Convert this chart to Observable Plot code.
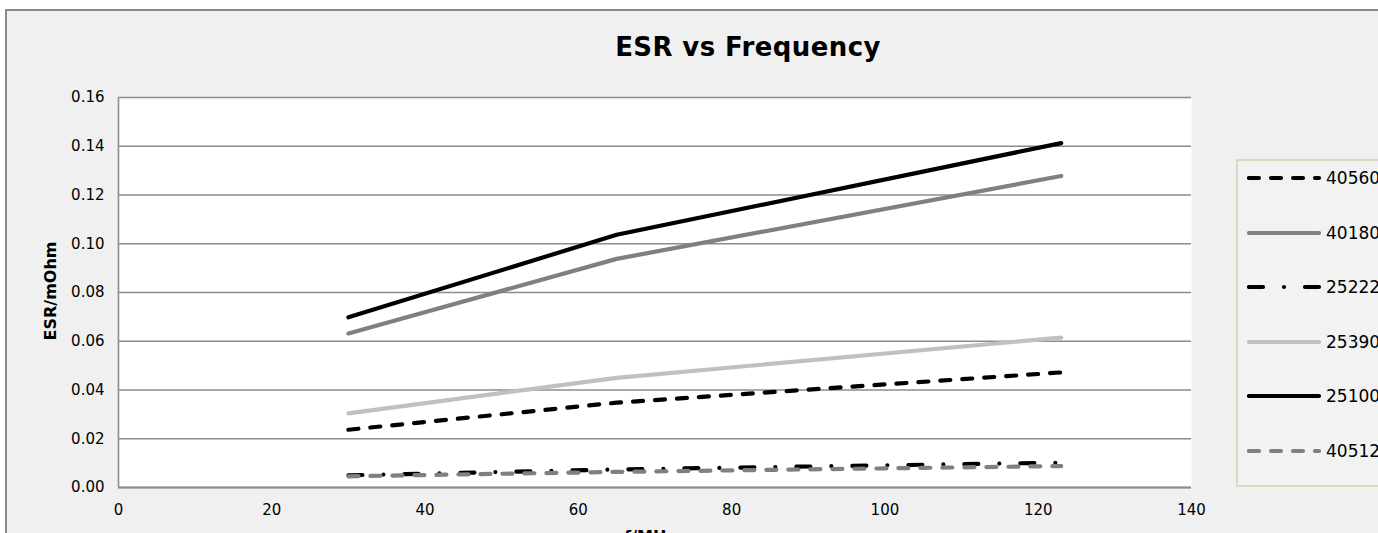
<!DOCTYPE html>
<html>
<head>
<meta charset="utf-8">
<script src="https://cdn.jsdelivr.net/npm/d3@7"></script>
<script src="https://cdn.jsdelivr.net/npm/@observablehq/plot@0.6"></script>
<style>
  html, body { margin: 0; padding: 0; background: #ffffff; width: 1378px; height: 533px; overflow: hidden; }
  #chart { position: absolute; left: 5px; top: 9px; width: 1373px; height: 524px;
           border-top: 2px solid #8a8a8a; border-left: 2px solid #8a8a8a; background: #f0f0f0;
           overflow: hidden; font-family: "DejaVu Sans", Verdana, sans-serif; }
  #title { position: absolute; left: 0; width: 1482px; top: 21px; text-align: center;
           font-weight: bold; font-size: 26px; letter-spacing: 0.4px; color: #000; }
  #plotwrap { position: absolute; left: 2px; top: 60px; }
  #ylabel { position: absolute; left: 43px; top: 280px; font-weight: bold; font-size: 16px;
            transform: translate(-50%, -50%) rotate(-90deg); white-space: nowrap; }
  #xlabel { position: absolute; left: 643px; top: 516px; font-weight: bold; font-size: 16px;
            transform: translateX(-50%); white-space: nowrap; }
  #legend { position: absolute; left: 1229px; top: 148px; width: 220px; height: 324px;
            border: 2px solid #dcd8c0; background: #f2f2f2; }
  .item { position: absolute; left: 0; height: 20px; display: flex; align-items: center; }
  .item svg { margin-left: 9px; }
  .item span { margin-left: 3px; font-size: 17px; color: #000; }
</style>
</head>
<body>
<div id="chart">
  <div id="title">ESR vs Frequency</div>
  <div id="plotwrap"></div>
  <div id="ylabel">ESR/mOhm</div>
  <div id="xlabel">f/MHz</div>
  <div id="legend"></div>
</div>
<script>
// ---- data ----
const freq = [30, 65, 123];
const seriesNames = ["40560", "40180", "25222", "25390", "25100", "40512"];
const s40560 = [0.0237, 0.0348, 0.0472];
const s40180 = [0.0632, 0.0938, 0.1278];
const s25222 = [0.0050, 0.0074, 0.0102];
const s25390 = [0.0304, 0.0450, 0.0615];
const s25100 = [0.0698, 0.1037, 0.1413];
const s40512 = [0.0046, 0.0064, 0.0088];
const xTicks = [0, 20, 40, 60, 80, 100, 120, 140];
const yTicks = [0, 0.02, 0.04, 0.06, 0.08, 0.10, 0.12, 0.14, 0.16];

const seriesValues = [s40560, s40180, s25222, s25390, s25100, s40512];

// ---- styles ----
const styles = {
  "40560": {stroke: "#000000", dash: "10,12"},
  "40180": {stroke: "#808080", dash: null},
  "25222": {stroke: "#000000", dash: "14,21,0,21"},
  "25390": {stroke: "#c0c0c0", dash: null},
  "25100": {stroke: "#000000", dash: null},
  "40512": {stroke: "#808080", dash: "10,12"}
};

const rows = seriesNames.map((name, i) => freq.map((f, j) => ({series: name, f, esr: seriesValues[i][j]})));

const lineMarks = rows.map((data, i) => {
  const st = styles[seriesNames[i]];
  const opts = {x: "f", y: "esr", stroke: st.stroke, strokeWidth: 4.2, strokeLinecap: "round", strokeLinejoin: "round"};
  if (st.dash) opts.strokeDasharray = st.dash;
  return Plot.line(data, opts);
});

const plot = Plot.plot({
  width: 1369,
  height: 462,
  marginLeft: 109,
  marginRight: 187,
  marginTop: 26,
  marginBottom: 46,
  style: {background: "transparent", fontFamily: "'DejaVu Sans', Verdana, sans-serif", fontSize: "15px", color: "#000"},
  x: {domain: [0, 140]},
  y: {domain: [0, 0.16]},
  marks: [
    Plot.frame({fill: "#ffffff", stroke: null}),
    Plot.gridY(yTicks, {stroke: "#8c8c8c", strokeOpacity: 1, strokeWidth: 1.4}),
    Plot.ruleX([0], {stroke: "#8c8c8c", strokeWidth: 1.6}),
    Plot.ruleY([0], {stroke: "#8c8c8c", strokeWidth: 2}),
    ...lineMarks,
    Plot.axisY(yTicks, {tickSize: 0, tickPadding: 14, tickFormat: d3.format(".2f"), label: null, fill: "#000"}),
    Plot.axisX(xTicks, {tickSize: 0, tickPadding: 17, tickFormat: d3.format("d"), label: null, fill: "#000"})
  ]
});
document.getElementById("plotwrap").appendChild(plot);

// ---- legend ----
const legend = document.getElementById("legend");
const rowTops = [17, 72, 126, 181, 235, 290];
seriesNames.forEach((name, i) => {
  const st = styles[name];
  const item = document.createElement("div");
  item.className = "item";
  item.style.top = (rowTops[i] - 10) + "px";
  const svg = d3.create("svg").attr("width", 76).attr("height", 12);
  svg.append("line").attr("x1", 2).attr("x2", 72).attr("y1", 6).attr("y2", 6)
    .attr("stroke", st.stroke).attr("stroke-width", 4.2).attr("stroke-linecap", "round")
    .attr("stroke-dasharray", st.dash ? st.dash : null);
  item.appendChild(svg.node());
  const span = document.createElement("span");
  span.textContent = name;
  item.appendChild(span);
  legend.appendChild(item);
});
</script>
</body>
</html>
